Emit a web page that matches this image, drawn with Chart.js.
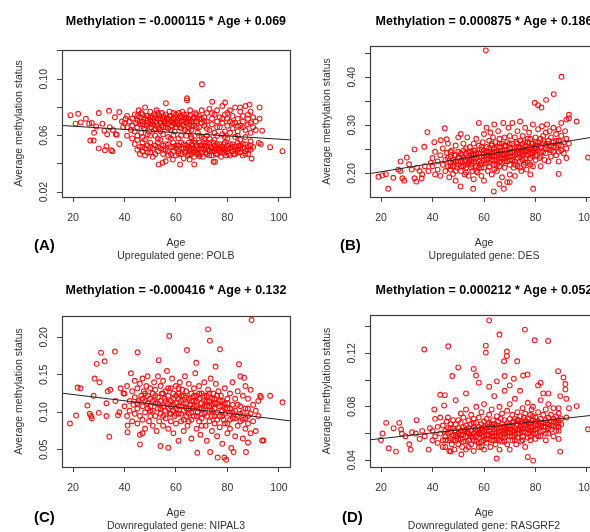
<!DOCTYPE html>
<html>
<head>
<meta charset="utf-8">
<script src="https://cdn.jsdelivr.net/npm/chart.js@4.4.1/dist/chart.umd.min.js"></script>
<style>
  html, body { margin: 0; padding: 0; background: #fff; }
  #page { position: relative; width: 590px; height: 532px; overflow: hidden; }
  canvas { position: absolute; }
  .tag { position: absolute; font: bold 15px "Liberation Sans", Arial, sans-serif; color: #000; }
</style>
</head>
<body>
<div id="page">
  <canvas id="cA" width="295" height="270" style="left:0;top:0"></canvas>
  <canvas id="cB" width="320" height="270" style="left:295px;top:0"></canvas>
  <canvas id="cC" width="295" height="270" style="left:0;top:270px"></canvas>
  <canvas id="cD" width="320" height="270" style="left:295px;top:270px"></canvas>
  <div class="tag" style="left:34px;top:236px">(A)</div>
  <div class="tag" style="left:340px;top:236px">(B)</div>
  <div class="tag" style="left:34px;top:508px">(C)</div>
  <div class="tag" style="left:342px;top:508px">(D)</div>
</div>
<script>
// equations shown in the titles
const slopes = [-0.000115, 0.000875, -0.000416, 0.000212];
const intercepts = [0.069, 0.186, 0.132, 0.052];
const genes = ['Upregulated gene: POLB', 'Upregulated gene: DES', 'Downregulated gene: NIPAL3', 'Downregulated gene: RASGRF2'];
const xTicks = [20, 40, 60, 80, 100];
const yLabelsA = ['0.02', '0.06', '0.10'];
const yLabelsB = ['0.20', '0.30', '0.40'];
const yLabelsC = ['0.05', '0.10', '0.15', '0.20'];
const yLabelsD = ['0.04', '0.08', '0.12'];

// [age, average methylation]
const pointsA = [
  [19,0.0745],[21,0.0685],[22,0.0755],[23,0.0694],[25,0.072],[26.3,0.0685],[27.3,0.069],[26.7,0.0565],[28,0.0565],[28.2,0.062],
  [29,0.0665],[30,0.076],[30,0.051],[31.4,0.0685],[32.2,0.0635],[32.4,0.0497],[33,0.0525],[33.3,0.061],[34,0.0776],[34.3,0.066],
  [34.8,0.0497],[35.3,0.049],[35.5,0.064],[36.3,0.073],[36.6,0.061],[37,0.0607],[38,0.0767],[38,0.0541],[39,0.07],[39.5,0.066],
  [70.1,0.0964],[64.3,0.0865],[64.3,0.085],[56.1,0.083],[74.1,0.084],[79.1,0.0835],[88.6,0.082],[92.5,0.08],[84.9,0.08],[92.5,0.072],
  [93.5,0.0635],[96.6,0.0518],[101.4,0.049],[92.2,0.0548],[93,0.054],[53.3,0.0396],[54.8,0.0408],[56,0.0418],[58.8,0.043],[61.6,0.0396],
  [67.1,0.0396],[65.3,0.043],[74.6,0.0415],[75.2,0.0415],[69.2,0.0454],[89.4,0.0438],
  [40,0.069],[40.5,0.072],[41,0.066],[41,0.074],[42,0.070],[42.5,0.064],[43,0.072],[43,0.067],[44,0.075],[44,0.063],
  [44.5,0.069],[45,0.071],[45,0.066],[45.5,0.078],[46,0.073],[46,0.068],[46.5,0.062],[47,0.070],[47,0.075],[47.5,0.065],
  [48,0.080],[48,0.072],[48.5,0.067],[49,0.074],[49,0.069],[49.5,0.063],[50,0.077],[50,0.071],[50.5,0.066],[41,0.060],
  [43,0.058],[45,0.060],[47,0.059],[49,0.061],
  [51,0.073],[51,0.068],[51.5,0.075],[52,0.070],[52,0.065],[52.5,0.078],[53,0.072],[53,0.067],[53.5,0.074],[54,0.069],
  [54,0.063],[54.5,0.076],[55,0.071],[55,0.066],[55.5,0.073],[56,0.070],[56,0.075],[56.5,0.068],[57,0.072],[57,0.065],
  [57.5,0.077],[58,0.070],[58,0.074],[58.5,0.067],[59,0.072],[59,0.069],[59.5,0.063],[60,0.075],[60,0.070],[60,0.066],
  [52,0.060],[55,0.061],[57,0.059],[59,0.060],
  [61,0.072],[61,0.068],[61.5,0.074],[62,0.070],[62,0.065],[62.5,0.077],[63,0.071],[63,0.067],[63.5,0.073],[64,0.069],
  [64,0.075],[64.5,0.063],[65,0.072],[65,0.068],[65.5,0.078],[66,0.070],[66,0.064],[67,0.073],[67,0.067],[68,0.075],
  [68,0.070],[68.5,0.062],[69,0.072],[69,0.066],[70,0.078],[70,0.069],[62,0.060],[66,0.059],[69,0.060],
  [71,0.073],[71,0.067],[72,0.076],[72,0.070],[73,0.064],[73,0.079],[74,0.072],[74,0.068],[75,0.075],[75,0.062],
  [76,0.070],[76,0.078],[77,0.066],[77,0.073],[78,0.081],[78,0.069],[79,0.075],[79,0.063],[80,0.072],[80,0.067],
  [81,0.078],[81,0.070],[82,0.065],[82,0.074],[83,0.080],[83,0.069],[84,0.072],[84,0.063],[85,0.077],[85,0.067],
  [86,0.074],[86,0.070],[87,0.081],[87,0.064],[88,0.072],[88,0.068],[89,0.077],[89,0.069],[90,0.066],[90,0.073],
  [91,0.070],[91,0.064],
  [45,0.074],[46,0.070],[46.5,0.076],[47,0.068],[48,0.065],[48.5,0.074],[49,0.071],[50,0.068],[50,0.073],[51,0.070],
  [51.5,0.064],[52,0.074],[52.5,0.069],[53,0.076],[53.5,0.065],[54,0.072],[54.5,0.067],[55,0.074],[55.5,0.069],[56,0.066],
  [56.5,0.072],[57,0.069],[57.5,0.074],[58,0.064],[58.5,0.071],[59,0.076],[59.5,0.068],[60,0.073],[60.5,0.069],[61,0.076],
  [61.5,0.066],[62,0.073],[62.5,0.068],[63,0.075],[63.5,0.064],[64,0.072],[64.5,0.07],[65,0.065],[65.5,0.074],[66,0.067],
  [66.5,0.072],[67,0.07],[67.5,0.076],[68,0.066],[69,0.074],[70,0.072],[71,0.07],[72,0.065],[74,0.076],[76,0.066],
  [78,0.072],[80,0.076],[82,0.069],[84,0.067],[86,0.066],[88,0.075],
  [44,0.054],[45,0.050],[46,0.052],[46,0.047],[47,0.055],[47,0.049],[48,0.051],[48,0.046],[49,0.053],[50,0.048],
  [50,0.055],[51,0.051],[51,0.045],[52,0.053],[53,0.049],[53,0.055],[54,0.051],[55,0.047],[55,0.053],[56,0.050],
  [57,0.054],[57,0.046],[58,0.052],[59,0.049],[59,0.055],[60,0.051],[60,0.046],[48,0.057],[54,0.057],[58,0.058],
  [61,0.053],[61,0.049],[62,0.055],[62,0.047],[63,0.051],[63,0.044],[64,0.053],[64,0.049],[65,0.055],[65,0.047],
  [66,0.051],[66,0.054],[67,0.049],[67,0.045],[68,0.053],[68,0.050],[68.5,0.047],[69,0.055],[69,0.051],[70,0.048],
  [70,0.053],[70.5,0.045],[71,0.050],[71,0.055],[72,0.052],[72,0.047],[73,0.054],[73,0.049],[74,0.051],[74,0.046],
  [74.5,0.055],[75,0.049],[75,0.053],[76,0.047],[76,0.051],[77,0.054],[77,0.049],[77.5,0.045],[78,0.052],[78,0.048],
  [79,0.055],[79,0.050],[79.5,0.046],[80,0.053],[80,0.049],[81,0.051],[81,0.046],[82,0.054],[82,0.049],[83,0.052],
  [83,0.047],[84,0.055],[84,0.050],[85,0.048],[85,0.053],[86,0.051],[86,0.046],[87,0.054],[87,0.049],[88,0.052],
  [88,0.047],[89,0.050],[89,0.056],[90,0.052],[71,0.058],[75,0.057],[80,0.058],[85,0.057],[66,0.058],[72,0.060],
  [78,0.061],[83,0.059],
  [60,0.053],[61,0.047],[62,0.051],[63,0.054],[63.5,0.048],[64,0.051],[64.5,0.046],[65,0.052],[65.5,0.049],[66,0.047],
  [66.5,0.053],[67,0.051],[67.5,0.055],[68,0.048],[69,0.047],[69.5,0.053],[70,0.051],[71,0.053],[71.5,0.048],[72,0.055],
  [72.5,0.05],[73,0.046],[73.5,0.052],[74,0.049],[75,0.051],[75.5,0.047],[76,0.054],[76.5,0.05],[77,0.052],[78,0.05],
  [78.5,0.054],[79,0.048],[80,0.051],[80.5,0.047],[81,0.054],[82,0.052],[82.5,0.047],[83,0.05],[84,0.048],[84.5,0.053],
  [85,0.051],[86,0.054],[87,0.047],[88,0.05],[89,0.053],[47,0.052],[49,0.048],[50,0.052],[52,0.047],[53,0.052],
  [55,0.05],[56,0.054],[57,0.049],[58,0.047],[59,0.052],
  [45,0.057],[50,0.06],[53,0.058],[61,0.058],[64,0.06],[67,0.057],[70,0.059],[73,0.058],[76,0.06],[79,0.059],
  [81,0.062],[84,0.06],[87,0.059],[89,0.062]
];

const pointsB = [
  [19,0.193],[20.6,0.196],[21.9,0.1985],[22.8,0.168],[24.8,0.191],[26.7,0.208],[27.5,0.205],[27.6,0.225],[28.3,0.19],[29,0.185],
  [30,0.233],[30.9,0.219],[31.9,0.208],[33,0.19],[33.7,0.183],[33,0.25],[35,0.205],[35.8,0.19],[36.8,0.2555],[38,0.286],
  [38.4,0.205],[39.3,0.222],[37,0.215],[40.7,0.265],[43.2,0.269],[44.8,0.294],[45.5,0.271],[36,0.198],[34,0.212],
  [60.7,0.456],[90.1,0.401],[87.1,0.365],[84.1,0.353],[79.7,0.347],[81,0.342],[82.3,0.337],[96,0.308],[100.4,0.233],[93,0.322],
  [92,0.312],[55.8,0.168],[63.8,0.1625],[67.7,0.168],[79.1,0.168],[89,0.199],[50.9,0.173],[66,0.178],[70,0.182],
  [40,0.215],[40,0.232],[41,0.198],[41,0.245],[42,0.225],[42,0.208],[43,0.238],[43,0.195],[44,0.218],[44,0.252],
  [45,0.228],[45,0.205],[45.5,0.243],[46,0.215],[46,0.262],[46.5,0.192],[47,0.235],[47,0.222],[47,0.208],[47.5,0.248],
  [48,0.228],[48,0.215],[48,0.199],[48.5,0.238],[49,0.225],[49,0.258],[49,0.185],[49.5,0.212],[50,0.232],[50,0.245],
  [50,0.218],[50,0.275],
  [51,0.225],[51,0.282],[51,0.205],[51.5,0.238],[52,0.215],[52,0.248],[52,0.262],[52.5,0.198],[53,0.228],[53,0.241],
  [53,0.212],[53.5,0.275],[54,0.222],[54,0.235],[54,0.195],[54.5,0.255],[55,0.218],[55,0.245],[55,0.232],[55.5,0.205],
  [56,0.238],[56,0.262],[56,0.225],[56,0.188],[56.5,0.248],[57,0.215],[57,0.232],[57,0.272],[57.5,0.202],[58,0.242],
  [58,0.225],[58,0.258],[58,0.305],[58.5,0.218],[59,0.235],[59,0.249],[59,0.195],[59.5,0.265],[60,0.228],[60,0.242],
  [60,0.212],[60,0.282],[60,0.185],
  [61,0.238],[61,0.255],[61,0.222],[61,0.295],[61.5,0.205],[62,0.245],[62,0.232],[62,0.268],[62,0.215],[62.5,0.285],
  [63,0.241],[63,0.228],[63,0.258],[63,0.198],[63.5,0.275],[64,0.235],[64,0.252],[64,0.218],[64,0.302],[64.5,0.265],
  [65,0.245],[65,0.228],[65,0.238],[65,0.205],[65.5,0.288],[66,0.255],[66,0.232],[66,0.215],[66,0.272],[66.5,0.245],
  [67,0.238],[67,0.262],[67,0.222],[67,0.192],[67.5,0.305],[68,0.248],[68,0.232],[68,0.275],[68,0.212],[68.5,0.258],
  [69,0.241],[69,0.225],[69,0.265],[69,0.182],[69.5,0.295],[70,0.252],[70,0.235],[70,0.218],[70,0.278],[70,0.198],
  [71,0.245],[71,0.262],[71,0.228],[71,0.305],[71.5,0.212],[72,0.252],[72,0.238],[72,0.275],[72,0.195],[72.5,0.265],
  [73,0.248],[73,0.232],[73,0.288],[73,0.215],[73.5,0.255],[74,0.242],[74,0.268],[74,0.225],[74,0.308],[74.5,0.205],
  [75,0.252],[75,0.238],[75,0.278],[75,0.262],[75.5,0.218],[76,0.245],[76,0.258],[76,0.232],[76,0.295],[76.5,0.208],
  [77,0.252],[77,0.265],[77,0.238],[77,0.222],[77.5,0.285],[78,0.255],[78,0.242],[78,0.272],[78,0.198],[78.5,0.262],
  [79,0.248],[79,0.235],[79,0.302],[79,0.215],[80,0.258],[80,0.245],[80,0.275],[80,0.228],
  [81,0.265],[81,0.248],[81,0.292],[81.5,0.232],[82,0.272],[82,0.255],[82,0.215],[82.5,0.298],[83,0.262],[83,0.245],
  [83,0.278],[83.5,0.228],[84,0.285],[84,0.258],[84,0.242],[84.5,0.302],[85,0.268],[85,0.25],[85,0.225],[85.5,0.288],
  [86,0.275],[86,0.258],[86,0.235],[87,0.295],[87,0.265],[87,0.245],[88,0.282],[88,0.255],[88,0.238],[89,0.292],
  [89,0.268],[89,0.245],[89,0.225],[90,0.278],[90,0.258],[90,0.305],[91,0.265],[91,0.242],[91.5,0.288],[92,0.272],
  [92,0.252],[92,0.232],[93,0.315],[93,0.262],
  [46,0.232],[47,0.245],[48,0.222],[49,0.238],[50,0.225],[51,0.242],[51,0.215],[52,0.232],[52.5,0.225],[53,0.252],
  [53,0.218],[54,0.245],[54.5,0.228],[55,0.238],[55,0.212],[56,0.248],[56,0.232],[57,0.242],[57,0.222],[58,0.235],
  [58,0.212],[59,0.255],[59,0.222],[60,0.248],[60,0.235],[61,0.245],[61,0.228],[62,0.252],[62,0.238],[63,0.262],
  [63,0.235],[64,0.245],[64,0.228],[65,0.255],[65,0.218],[66,0.242],[66,0.262],[67,0.248],[67,0.232],[68,0.258],
  [68,0.225],[69,0.248],[69,0.235],[70,0.262],[70,0.242],[71,0.252],[71,0.235],[72,0.245],[72,0.225],[73,0.262],
  [73,0.242],[74,0.252],[74,0.235],[75,0.245],[75,0.228],[76,0.265],[76,0.248],[77,0.245],[77,0.272],[78,0.252],
  [78,0.232],[79,0.262],[79,0.242],[80,0.252],[80,0.238],[81,0.258],[82,0.245],[83,0.268],[84,0.252],[85,0.262],
  [86,0.248],[87,0.255],[88,0.268],[89,0.258],[90,0.248],[47,0.215],[49,0.205],[53,0.202],[55,0.225],[57,0.205],
  [59,0.212],[62,0.222],[64,0.208],[66,0.225],[68,0.238],[70,0.228],[72,0.218],[74,0.212],[76,0.222],[78,0.218],
  [80,0.265],[82,0.235]
];

const pointsC = [
  [18.8,0.085],[21.2,0.0956],[21.8,0.133],[22.9,0.132],[25.6,0.109],[26.5,0.098],[27,0.095],[27.3,0.092],[28,0.122],[28.4,0.145],
  [29.2,0.1646],[30.3,0.14],[30,0.0992],[30.9,0.1795],[32.3,0.168],[33,0.095],[33,0.112],[34.1,0.0674],[33.5,0.128],[34.5,0.13],
  [36.3,0.181],[36.5,0.115],[37.5,0.096],[38,0.1],[38.5,0.132],[39.6,0.125],[41.2,0.0823],[41.2,0.0735],[45.1,0.18],[46,0.0572],
  [47,0.072],
  [89.4,0.223],[72.5,0.2106],[73.2,0.1955],[57.4,0.2017],[77.1,0.184],[64.3,0.183],[53.3,0.1695],[67.9,0.166],[84.5,0.164],[75.4,0.161],
  [57,0.0527],[54,0.055],[68.3,0.046],[73.3,0.047],[76.2,0.0396],[78.8,0.0396],[79.5,0.0366],[81.5,0.0523],[82.4,0.047],[87.2,0.047],
  [88,0.0597],[93.5,0.0624],[94,0.0624],[96.6,0.122],[101.4,0.1133],[92.7,0.122],[86.5,0.146],
  [40,0.125],[40,0.108],[41,0.095],[41,0.135],[42,0.115],[42,0.102],[42.5,0.152],[43,0.128],[43,0.088],[43.5,0.11],
  [44,0.142],[44,0.098],[44,0.12],[45,0.105],[45,0.132],[45,0.085],[45.5,0.115],[46,0.138],[46,0.095],[46,0.07],
  [46.5,0.122],[47,0.108],[47,0.145],[47,0.09],[47.5,0.128],[48,0.115],[48,0.1],[48,0.078],[48.5,0.135],[49,0.122],
  [49,0.105],[49,0.148],[49.5,0.088],[50,0.118],[50,0.095],[50,0.132],[50,0.108],
  [51,0.125],[51,0.102],[51,0.082],[51.5,0.14],[52,0.112],[52,0.095],[52,0.13],[52.5,0.075],[53,0.12],[53,0.105],
  [53,0.148],[53.5,0.088],[54,0.115],[54,0.135],[54,0.098],[54.5,0.125],[55,0.108],[55,0.082],[55,0.142],[55.5,0.118],
  [56,0.102],[56,0.128],[56,0.092],[56.5,0.155],[57,0.112],[57,0.122],[57,0.078],[57.5,0.098],[58,0.132],[58,0.108],
  [58,0.115],[58,0.088],[58.5,0.145],[59,0.118],[59,0.102],[59,0.125],[59,0.072],[59.5,0.095],[60,0.112],[60,0.135],
  [60,0.105],[60,0.085],
  [61,0.118],[61,0.125],[61,0.098],[61,0.062],[61.5,0.14],[62,0.108],[62,0.115],[62,0.088],[62.5,0.13],[63,0.102],
  [63,0.122],[63,0.075],[63.5,0.148],[64,0.112],[64,0.095],[64,0.128],[64,0.105],[64.5,0.082],[65,0.118],[65,0.138],
  [65,0.098],[65.5,0.11],[66,0.125],[66,0.09],[66,0.065],[66.5,0.105],[67,0.115],[67,0.132],[67,0.095],[67.5,0.152],
  [68,0.108],[68,0.122],[68,0.078],[68.5,0.1],[69,0.118],[69,0.088],[69,0.135],[69.5,0.07],[70,0.105],[70,0.112],
  [70,0.125],[70,0.092],
  [71,0.115],[71,0.098],[71,0.14],[71.5,0.082],[72,0.108],[72,0.122],[72,0.062],[72.5,0.13],[73,0.102],[73,0.115],
  [73,0.088],[73.5,0.145],[74,0.11],[74,0.095],[74,0.075],[74.5,0.125],[75,0.105],[75,0.118],[75,0.085],[75.5,0.138],
  [76,0.1],[76,0.112],[76,0.068],[76.5,0.128],[77,0.095],[77,0.108],[77,0.08],[77.5,0.122],[78,0.102],[78,0.115],
  [78,0.058],[78.5,0.09],[79,0.112],[79,0.098],[79,0.132],[80,0.105],[80,0.085],[80,0.118],[80,0.072],
  [81,0.098],[81,0.125],[81,0.078],[82,0.11],[82,0.092],[82,0.14],[83,0.102],[83,0.118],[83,0.068],[84,0.095],
  [84,0.128],[84,0.082],[85,0.108],[85,0.148],[85,0.088],[86,0.1],[86,0.122],[86,0.065],[87,0.092],[87,0.135],
  [87,0.078],[88,0.105],[88,0.118],[88,0.085],[89,0.098],[89,0.13],[89,0.072],[90,0.11],[90,0.088],[91,0.102],
  [91,0.075],[92,0.115],[92,0.095],[93,0.12],
  [45,0.112],[47,0.118],[48,0.125],[49,0.112],[50,0.102],[51,0.115],[52,0.122],[53,0.112],[54,0.105],[55,0.125],
  [55,0.095],[56,0.115],[57,0.105],[57,0.132],[58,0.098],[59,0.11],[60,0.098],[60,0.122],[61,0.108],[61,0.132],
  [62,0.098],[62,0.122],[63,0.112],[63,0.09],[64,0.12],[65,0.105],[65,0.088],[66,0.115],[66,0.1],[67,0.108],
  [67,0.122],[68,0.095],[68,0.115],[69,0.105],[69,0.125],[70,0.098],[70,0.082],[71,0.108],[71,0.122],[72,0.095],
  [72,0.115],[73,0.125],[73,0.108],[74,0.118],[74,0.102],[75,0.095],[75,0.112],[76,0.122],[76,0.09],[77,0.115],
  [78,0.108],[78,0.095],[79,0.105],[79,0.085],[80,0.112],[81,0.105],[81,0.09],[82,0.1],[83,0.092],[84,0.11],
  [85,0.098],[86,0.09],[87,0.105],[88,0.095]
];

const pointsD = [
  [20,0.0552],[20.6,0.06],[22,0.068],[23,0.049],[24.9,0.064],[25.8,0.0465],[27.1,0.068],[27.8,0.063],[28.1,0.06],[29.5,0.058],
  [31,0.052],[31.5,0.048],[32,0.061],[33.5,0.06],[33.8,0.07],[35,0.056],[36,0.062],[37,0.058],[38.5,0.048],[39,0.064],
  [40,0.055],[40.7,0.078],[43,0.089],[44.8,0.0887],[44,0.05],[47,0.0465],[47.7,0.103],[51.2,0.0445],
  [62,0.1446],[75.9,0.1377],[66,0.134],[79.7,0.1297],[84.9,0.1292],[36.8,0.1228],[46.1,0.1252],[60.7,0.1257],[60.7,0.1205],[68.9,0.1213],
  [68.9,0.118],[72.9,0.114],[67.8,0.114],[50,0.1094],[56,0.1083],[56.9,0.1034],[58,0.098],[71.6,0.101],[75.2,0.1034],[76.9,0.1042],
  [68,0.103],[88.8,0.1066],[90.9,0.1019],[91.6,0.097],[91.6,0.093],[89.6,0.088],[100.4,0.0632],[96,0.0805],[64.9,0.0413],[77,0.0425],
  [79.1,0.0398],[89.6,0.0465],[53,0.09],[62,0.095],[65,0.099],[70,0.096],[82,0.098],[85,0.09],
  [40,0.062],[41,0.058],[41,0.071],[42,0.065],[42,0.053],[43,0.06],[43,0.072],[44,0.055],[44,0.066],[44.5,0.081],
  [45,0.062],[45,0.058],[45,0.05],[45.5,0.069],[46,0.064],[46,0.055],[46,0.072],[46.5,0.047],[47,0.061],[47,0.067],
  [47,0.056],[47.5,0.052],[48,0.064],[48,0.059],[48,0.07],[48.5,0.048],[49,0.062],[49,0.055],[49,0.067],[49,0.085],
  [49.5,0.058],[50,0.064],[50,0.052],[50,0.07],[50,0.06],
  [51,0.062],[51,0.056],[51,0.068],[51,0.075],[51.5,0.05],[52,0.065],[52,0.059],[52,0.054],[52,0.072],[52.5,0.062],
  [53,0.058],[53,0.066],[53,0.048],[53,0.078],[53.5,0.061],[54,0.064],[54,0.055],[54,0.07],[54.5,0.059],[55,0.062],
  [55,0.067],[55,0.052],[55,0.074],[55.5,0.057],[56,0.065],[56,0.06],[56,0.047],[56,0.071],[56.5,0.063],[57,0.058],
  [57,0.068],[57,0.054],[57,0.08],[57.5,0.062],[58,0.065],[58,0.057],[58,0.072],[58,0.05],[58.5,0.061],[59,0.067],
  [59,0.059],[59,0.054],[59,0.076],[59.5,0.063],[60,0.058],[60,0.069],[60,0.062],[60,0.048],[60,0.082],
  [61,0.064],[61,0.059],[61,0.071],[61,0.053],[61.5,0.067],[62,0.062],[62,0.056],[62,0.074],[62,0.068],[62.5,0.05],
  [63,0.065],[63,0.06],[63,0.078],[63,0.055],[63.5,0.07],[64,0.063],[64,0.058],[64,0.067],[64,0.088],[64.5,0.052],
  [65,0.066],[65,0.061],[65,0.073],[65,0.056],[65.5,0.069],[66,0.064],[66,0.059],[66,0.08],[66,0.048],[66.5,0.071],
  [67,0.062],[67,0.067],[67,0.054],[67,0.075],[67.5,0.06],[68,0.065],[68,0.07],[68,0.057],[68,0.092],[68.5,0.063],
  [69,0.068],[69,0.061],[69,0.052],[69,0.077],[69.5,0.066],[70,0.063],[70,0.071],[70,0.058],[70,0.082],[70,0.048],
  [71,0.066],[71,0.062],[71,0.074],[71,0.055],[71.5,0.069],[72,0.064],[72,0.071],[72,0.059],[72,0.086],[72.5,0.052],
  [73,0.067],[73,0.063],[73,0.076],[73,0.057],[73.5,0.07],[74,0.065],[74,0.06],[74,0.073],[74,0.092],[74.5,0.054],
  [75,0.068],[75,0.064],[75,0.079],[75,0.058],[75.5,0.072],[76,0.066],[76,0.061],[76,0.075],[76,0.05],[76.5,0.069],
  [77,0.064],[77,0.071],[77,0.057],[77,0.083],[77.5,0.067],[78,0.062],[78,0.074],[78,0.068],[78,0.055],[78.5,0.078],
  [79,0.065],[79,0.07],[79,0.06],[79,0.08],[80,0.067],[80,0.063],[80,0.072],[80,0.056],
  [81,0.069],[81,0.064],[81,0.076],[81,0.096],[82,0.071],[82,0.066],[82,0.058],[82,0.085],[83,0.068],[83,0.074],
  [83,0.062],[83,0.09],[84,0.07],[84,0.065],[84,0.078],[84,0.055],[85,0.072],[85,0.067],[85,0.082],[85,0.06],
  [86,0.069],[86,0.074],[86,0.063],[87,0.071],[87,0.066],[87,0.079],[87,0.058],[88,0.073],[88,0.068],[88,0.062],
  [89,0.07],[89,0.075],[89,0.065],[89,0.056],[89,0.079],[90,0.071],[90,0.067],[92,0.086],[92,0.072],[93,0.079],
  [45,0.055],[46,0.06],[47,0.064],[48,0.055],[49,0.059],[50,0.056],[51,0.059],[52,0.062],[53,0.054],[53,0.063],
  [54,0.06],[54,0.05],[55,0.058],[56,0.055],[56,0.068],[57,0.061],[58,0.06],[58,0.053],[59,0.064],[59,0.05],
  [60,0.065],[60,0.055],[61,0.062],[61,0.056],[62,0.059],[62,0.065],[63,0.058],[63,0.067],[64,0.055],[64,0.061],
  [65,0.058],[65,0.064],[66,0.061],[66,0.055],[67,0.065],[67,0.058],[68,0.062],[68,0.054],[69,0.064],[69,0.058],
  [70,0.066],[70,0.061],[71,0.058],[71,0.068],[72,0.062],[72,0.055],[73,0.06],[73,0.07],[74,0.063],[74,0.068],
  [75,0.061],[75,0.055],[76,0.064],[76,0.07],[77,0.06],[77,0.068],[78,0.065],[78,0.058],[79,0.062],[79,0.073],
  [80,0.06],[80,0.069],[81,0.066],[81,0.058],[82,0.068],[82,0.062],[83,0.065],[84,0.068],[84,0.06],[85,0.064],
  [86,0.066],[87,0.069],[88,0.065],[89,0.068],[89,0.062]
];

const FONT = '"Liberation Sans", Arial, sans-serif';
const X_MIN = 15.72, X_MAX = 104.28;

// draws the R style box, the title over the box and the rotated y tick labels
const rLook = {
  id: 'rLook',
  afterDraw(chart, args, opts) {
    const { ctx, chartArea: a } = chart;
    const ys = chart.scales.y;
    ctx.save();
    ctx.strokeStyle = '#3c3c3c';
    ctx.lineWidth = 1.2;
    ctx.strokeRect(Math.round(a.left) + 0.5, Math.round(a.top) + 0.5,
      Math.round(a.right - a.left), Math.round(a.bottom - a.top));

    ctx.fillStyle = '#000';
    ctx.font = 'bold 12.5px ' + FONT;
    ctx.textAlign = 'center';
    ctx.textBaseline = 'middle';
    ctx.fillText(opts.title, (a.left + a.right) / 2, opts.titleY);

    ctx.fillStyle = '#333';
    ctx.font = '10.5px ' + FONT;
    opts.labels.forEach(txt => {
      const py = ys.getPixelForValue(parseFloat(txt));
      ctx.save();
      ctx.translate(a.left - 17.5, py);
      ctx.rotate(-Math.PI / 2);
      ctx.fillText(txt, 0, 0);
      ctx.restore();
    });
    ctx.restore();
  }
};

function makePanel(id, idx, points, yMin, yMax, yStep, yLabels, box) {
  const sign = intercepts[idx] >= 0 ? ' + ' : ' - ';
  const title = 'Methylation = ' + slopes[idx].toFixed(6) + ' * Age' + sign + intercepts[idx].toFixed(3);
  const fit = [X_MIN, X_MAX].map(x => ({ x: x, y: slopes[idx] * x + intercepts[idx] }));
  const canvas = document.getElementById(id);
  new Chart(canvas, {
    type: 'scatter',
    data: {
      datasets: [
        {
          type: 'line',
          data: fit,
          borderColor: '#222',
          borderWidth: 1,
          pointRadius: 0,
          fill: false
        },
        {
          data: points.map(p => ({ x: p[0], y: p[1] })),
          pointStyle: 'circle',
          pointRadius: 2.4,
          pointBorderWidth: 1.1,
          pointBackgroundColor: 'rgba(0,0,0,0)',
          pointBorderColor: 'rgba(255,0,0,0.9)'
        }
      ]
    },
    options: {
      responsive: false,
      animation: false,
      layout: {
        padding: { left: box.left - 50, right: canvas.width - box.right, top: box.top, bottom: 270 - box.bottom - 66 }
      },
      plugins: {
        legend: { display: false },
        tooltip: { enabled: false },
        title: { display: false },
        rLook: { labels: yLabels, title: title, titleY: box.titleY }
      },
      scales: {
        x: {
          type: 'linear',
          min: X_MIN,
          max: X_MAX,
          afterFit: s => { s.height = 66; s.paddingLeft = 0; s.paddingRight = 0; },
          afterBuildTicks: s => { s.ticks = xTicks.map(v => ({ value: v })); },
          ticks: { color: '#333', font: { family: FONT, size: 10.5 }, padding: 10, includeBounds: false },
          grid: { drawOnChartArea: false, drawTicks: true, tickLength: 5, color: '#444' },
          border: { display: false },
          title: {
            display: true,
            text: ['Age', genes[idx]],
            color: '#333',
            font: { family: FONT, size: 10.5, lineHeight: 1.24 },
            padding: { top: 0, bottom: 0.5 }
          }
        },
        y: {
          min: yMin,
          max: yMax,
          afterFit: s => { s.width = 50; s.paddingTop = 0; s.paddingBottom = 0; },
          ticks: { stepSize: yStep, includeBounds: false, color: 'rgba(0,0,0,0)', font: { family: FONT, size: 10.5 } },
          grid: { drawOnChartArea: false, drawTicks: true, tickLength: 5, color: '#444' },
          border: { display: false },
          title: {
            display: true,
            text: 'Average methylation status',
            color: '#333',
            font: { family: FONT, size: 10.5, lineHeight: 1.24 },
            padding: { top: 1, bottom: 0 }
          }
        }
      }
    },
    plugins: [rLook]
  });
}

makePanel('cA', 0, pointsA, 0.0165, 0.1207, 0.02, yLabelsA, { left: 62, right: 291, top: 50, bottom: 197, titleY: 21.7 });
makePanel('cB', 1, pointsB, 0.151, 0.465, 0.05, yLabelsB, { left: 75, right: 303, top: 46, bottom: 197, titleY: 21.7 });
makePanel('cC', 2, pointsC, 0.027, 0.2284, 0.05, yLabelsC, { left: 62, right: 291, top: 46, bottom: 197, titleY: 20.3 });
makePanel('cD', 3, pointsD, 0.035, 0.1486, 0.02, yLabelsD, { left: 75, right: 303, top: 45, bottom: 197, titleY: 20.7 });
</script>
</body>
</html>
